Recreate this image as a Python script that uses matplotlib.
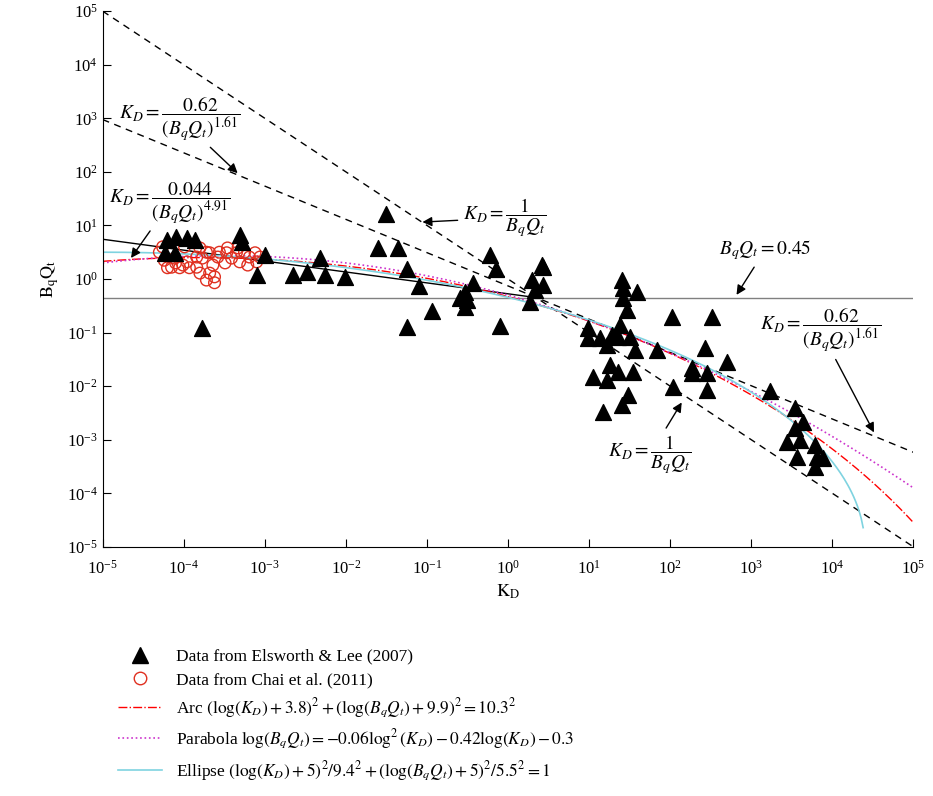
import numpy as np
import matplotlib
matplotlib.use("Agg")
import matplotlib.pyplot as plt
from matplotlib.lines import Line2D

plt.rcParams['font.family'] = ['Liberation Serif', 'DejaVu Serif']
plt.rcParams['mathtext.fontset'] = 'stix'

# --- data (log10 values) ---
el_logk = [-4.21, -4.09, -3.96, -3.86, -4.23, -4.11, -3.31, -3.28, -3.00, -3.77, -3.09, -2.65,
           -2.48, -2.32, -2.26, -2.01, -1.51, -1.60, -1.36, -1.25, -1.10, -0.94, -1.25, -0.22,
           -0.15, -0.43, -0.53, -0.51, -0.59, -0.53, -0.10, 0.42, 0.30, 0.43, 0.33, 0.27,
           1.41, 1.42, 1.59, 1.42, 0.43, 2.02, 2.52, 1.47, 1.38, 0.99, 0.99, 1.14, 1.28, 1.36,
           1.51, 1.22, 1.57, 1.84, 2.43, 2.70, 2.27, 2.27, 2.46, 1.26, 1.36, 1.54, 1.05, 1.22,
           2.04, 2.46, 1.48, 1.41, 1.17, 3.23, 3.54, 3.64, 3.54, 3.44, 3.60, 3.79, 3.57, 3.81,
           3.88, 3.79]
el_logb = [0.73, 0.78, 0.76, 0.73, 0.49, 0.49, 0.82, 0.69, 0.45, -0.91, 0.07, 0.07,
           0.13, 0.39, 0.07, 0.04, 1.21, 0.58, 0.58, 0.19, -0.13, -0.60, -0.90, 0.45,
           0.19, -0.07, -0.24, -0.39, -0.35, -0.52, -0.88, 0.26, -0.02, -0.11, -0.21, -0.43,
           -0.02, -0.17, -0.24, -0.35, 0.22, -0.71, -0.71, -0.58, -0.86, -0.91, -1.10, -1.10, -1.04, -1.08,
           -1.08, -1.23, -1.32, -1.32, -1.29, -1.55, -1.66, -1.75, -1.75, -1.60, -1.74, -1.74, -1.83, -1.88,
           -2.01, -2.07, -2.16, -2.35, -2.48, -2.10, -2.41, -2.67, -2.78, -3.04, -3.00, -3.10, -3.32, -3.32,
           -3.34, -3.51]

chai_logk = [-4.26, -4.20, -4.15, -4.05, -3.99, -3.93, -3.84, -3.80, -3.77, -3.72, -3.68, -3.62,
             -3.64, -3.58, -3.56, -3.47, -3.41, -3.35, -3.31, -3.25, -3.19, -3.12, -3.10, -3.06,
             -3.96, -4.11, -3.68, -3.49, -3.21, -3.80, -3.46, -3.33, -3.72, -3.84, -4.01,
             -4.30, -4.24, -4.10, -3.62]
chai_logb = [0.60, 0.21, 0.22, 0.21, 0.60, 0.21, 0.22, 0.58, 0.39, -0.02, 0.11, 0.04,
             0.26, 0.41, 0.50, 0.49, 0.39, 0.49, 0.32, 0.50, 0.41, 0.49, 0.32, 0.41,
             0.32, 0.39, 0.49, 0.30, 0.26, 0.11, 0.58, 0.58, 0.50, 0.41, 0.26,
             0.50, 0.35, 0.30, -0.07]

# model parameters
arc_c, arc_d, arc_r = 3.8, 9.9, 10.3
par_a, par_b, par_c = -0.06, -0.42, -0.3
ell_a, ell_b = 9.4, 5.5
bq_line = 0.45

fig = plt.figure(figsize=(9.33, 7.96), dpi=100)
ax = fig.add_axes([0.110, 0.313, 0.869, 0.673])

dash = dict(ls=(0, (5, 4)), lw=1, color='k')
x = np.linspace(-5, 5, 400)
K = 10 ** x
ax.plot(K, 1 / K, **dash)
ax.plot(K, (0.62 / K) ** (1 / 1.61), **dash)
xs = np.linspace(-5, 0.4, 200)
ax.plot(10 ** xs, (0.044 / 10 ** xs) ** (1 / 4.91), 'k-', lw=1)
ax.axhline(bq_line, color='grey', lw=1)

arc = np.sqrt(arc_r ** 2 - (x + arc_c) ** 2) - arc_d
ax.plot(K, 10 ** arc, color='red', ls='-.', lw=1)
par = par_a * x ** 2 + par_b * x + par_c
ax.plot(K, 10 ** par, color='#cc33cc', ls=':', lw=1.2)
xe = np.linspace(-5, 4.38, 400)
ell = ell_b * np.sqrt(np.clip(1 - ((xe + 5) / ell_a) ** 2, 0, None)) - 5
ax.plot(10 ** xe, 10 ** ell, color='#7fd3e0', lw=1.2)

ax.scatter(10 ** np.array(chai_logk), 10 ** np.array(chai_logb), s=70, facecolors='none',
           edgecolors='#e03020', lw=1, zorder=3)
ax.scatter(10 ** np.array(el_logk), 10 ** np.array(el_logb), s=130, marker='^', color='k', zorder=4)

ax.set_xscale('log')
ax.set_yscale('log')
ax.set_xlim(1e-5, 1e5)
ax.set_ylim(1e-5, 1e5)
ax.set_xticks([10.0 ** k for k in range(-5, 6)])
ax.set_yticks([10.0 ** k for k in range(-5, 6)])
ax.tick_params(which='both', direction='in', labelsize=12)
ax.tick_params(which='major', length=6)
ax.tick_params(axis='x', pad=9)
ax.spines['top'].set_visible(False)
ax.spines['right'].set_visible(False)
ax.set_xlabel(r'$\mathrm{K_D}$', fontsize=13)
ax.set_ylabel(r'$\mathrm{B_qQ_t}$', fontsize=13)

fs = 14
eq1 = r'$K_D=\dfrac{0.62}{(B_qQ_t)^{1.61}}$'
eq2 = r'$K_D=\dfrac{0.044}{(B_qQ_t)^{4.91}}$'
eq3 = r'$K_D=\dfrac{1}{B_qQ_t}$'
arw = dict(arrowstyle='-|>', color='k', lw=1)
ax.annotate(eq1, xy=(10 ** -3.31, 10 ** 1.94), xytext=(10 ** -4.05, 10 ** 3.0),
            ha='center', va='center', fontsize=fs, arrowprops=arw)
ax.annotate(eq2, xy=(10 ** -4.67, 10 ** 0.35), xytext=(10 ** -4.17, 10 ** 1.42),
            ha='center', va='center', fontsize=fs, arrowprops=arw)
ax.annotate(eq3, xy=(10 ** -1.09, 10 ** 1.06), xytext=(10 ** -0.04, 10 ** 1.14),
            ha='center', va='center', fontsize=fs, arrowprops=arw)
ax.annotate(r'$B_qQ_t=0.45$', xy=(10 ** 2.80, 10 ** -0.34), xytext=(10 ** 3.17, 10 ** 0.54),
            ha='center', va='center', fontsize=fs, arrowprops=arw)
ax.annotate(eq1, xy=(10 ** 4.53, 10 ** -2.91), xytext=(10 ** 3.85, 10 ** -0.95),
            ha='center', va='center', fontsize=fs, arrowprops=arw)
ax.annotate(eq3, xy=(10 ** 2.16, 10 ** -2.26), xytext=(10 ** 1.75, 10 ** -3.28),
            ha='center', va='center', fontsize=fs, arrowprops=arw)

handles = [
    Line2D([], [], ls='none', marker='^', color='k', ms=11),
    Line2D([], [], ls='none', marker='o', mfc='none', mec='#e03020', ms=9),
    Line2D([], [], color='red', ls='-.', lw=1),
    Line2D([], [], color='#cc33cc', ls=':', lw=1.2),
    Line2D([], [], color='#7fd3e0', lw=1.2),
]
labels = [
    'Data from Elsworth & Lee (2007)',
    'Data from Chai et al. (2011)',
    r'Arc $(\log(K_D)+3.8)^2+(\log(B_qQ_t)+9.9)^2=10.3^2$',
    r'Parabola $\log(B_qQ_t)=-0.06\log^2(K_D)-0.42\log(K_D)-0.3$',
    r'Ellipse $(\log(K_D)+5)^2/9.4^2+(\log(B_qQ_t)+5)^2/5.5^2=1$',
]
fig.legend(handles, labels, loc='upper left', bbox_to_anchor=(0.11, 0.205), frameon=False,
           fontsize=12.5, labelspacing=0.45, handlelength=2.5)

fig.savefig('out.png', dpi=100)
